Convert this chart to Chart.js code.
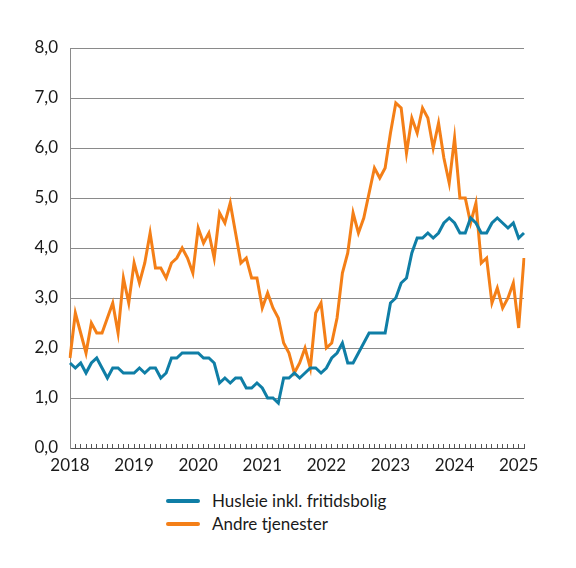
<!DOCTYPE html>
<html>
<head>
<meta charset="utf-8">
<script src="https://cdn.jsdelivr.net/npm/chart.js@4.4.1/dist/chart.umd.min.js"></script>
<style>
  body { margin: 0; background: #fff; }
  #wrap { width: 576px; height: 568px; position: relative; }
  #legend { position: absolute; left: 166px; top: 489px; font-family: Lato, sans-serif; font-size: 17px; color: #1a1a1a; }
  .item { display: flex; align-items: center; height: 23px; }
  .swatch { width: 34px; height: 4px; border-radius: 2px; margin-right: 12px; }
</style>
</head>
<body>
<div id="wrap">
  <canvas id="myChart" width="576" height="480"></canvas>
  <div id="legend"></div>
</div>
<script>
// years shown on the x axis, one point per month from Jan 2018 to Feb 2025
var years = ['2018', '2019', '2020', '2021', '2022', '2023', '2024', '2025'];
var monthsInLast = 2;

var seriesNames = ['Husleie inkl. fritidsbolig', 'Andre tjenester'];
var seriesColors = ['#0f7ea6', '#f47f17'];

var husleie = [
	1.7, 1.6, 1.7, 1.5, 1.7, 1.8, 1.6, 1.4, 1.6, 1.6, 1.5, 1.5,
	1.5, 1.6, 1.5, 1.6, 1.6, 1.4, 1.5, 1.8, 1.8, 1.9, 1.9, 1.9,
	1.9, 1.8, 1.8, 1.7, 1.3, 1.4, 1.3, 1.4, 1.4, 1.2, 1.2, 1.3,
	1.2, 1.0, 1.0, 0.9, 1.4, 1.4, 1.5, 1.4, 1.5, 1.6, 1.6, 1.5,
	1.6, 1.8, 1.9, 2.1, 1.7, 1.7, 1.9, 2.1, 2.3, 2.3, 2.3, 2.3,
	2.9, 3.0, 3.3, 3.4, 3.9, 4.2, 4.2, 4.3, 4.2, 4.3, 4.5, 4.6,
	4.5, 4.3, 4.3, 4.6, 4.5, 4.3, 4.3, 4.5, 4.6, 4.5, 4.4, 4.5,
	4.2, 4.3
];

var andre = [
	1.8, 2.7, 2.3, 1.9, 2.5, 2.3, 2.3, 2.6, 2.9, 2.3, 3.4, 2.9,
	3.7, 3.3, 3.7, 4.3, 3.6, 3.6, 3.4, 3.7, 3.8, 4.0, 3.8, 3.5,
	4.4, 4.1, 4.3, 3.8, 4.7, 4.5, 4.9, 4.3, 3.7, 3.8, 3.4, 3.4,
	2.8, 3.1, 2.8, 2.6, 2.1, 1.9, 1.5, 1.7, 2.0, 1.6, 2.7, 2.9,
	2.0, 2.1, 2.6, 3.5, 3.9, 4.7, 4.3, 4.6, 5.1, 5.6, 5.4, 5.6,
	6.3, 6.9, 6.8, 5.9, 6.6, 6.3, 6.8, 6.6, 6.0, 6.5, 5.8, 5.3,
	6.2, 5.0, 5.0, 4.5, 4.9, 3.7, 3.8, 2.9, 3.2, 2.8, 3.0, 3.3,
	2.4, 3.8
];

var labels = [];
for (var y = 0; y < years.length; y++) {
	var n = (y === years.length - 1) ? monthsInLast : 12;
	for (var m = 1; m <= n; m++) {
		labels.push(years[y] + '-' + (m < 10 ? '0' + m : m));
	}
}

var font = { family: 'Lato, sans-serif', size: 17 };

var ds = [husleie, andre].map(function (d, i) {
	return {
		label: seriesNames[i],
		data: d,
		borderColor: seriesColors[i],
		backgroundColor: seriesColors[i],
		borderWidth: 3,
		pointRadius: 0,
		tension: 0,
		fill: false
	};
});

var ctx = document.getElementById('myChart').getContext('2d');
var chart = new Chart(ctx, {
	type: 'line',
	data: { labels: labels, datasets: ds },
	options: {
		responsive: false,
		animation: false,
		layout: { padding: { left: 0, right: 52, top: 48, bottom: 0 } },
		plugins: { legend: { display: false }, tooltip: { enabled: false } },
		scales: {
			x: {
				offset: false,
				grid: { drawOnChartArea: false, tickLength: -4, color: '#555' },
				border: { color: '#555', width: 1 },
				ticks: {
					autoSkip: false, maxRotation: 0, minRotation: 0,
					color: '#1a1a1a', font: font, padding: 11,
					callback: function (v, i) { return i % 12 === 0 ? labels[i].slice(0, 4) : ''; }
				},
				afterFit: function (s) { s.height = 32; }
			},
			y: {
				min: 0, max: 8,
				grid: { color: '#8a8a8a', drawTicks: false },
				border: { color: '#8a8a8a' },
				ticks: {
					stepSize: 1, color: '#1a1a1a', font: font, padding: 12,
					callback: function (v) { return v.toFixed(1).replace('.', ','); }
				},
				afterFit: function (s) { s.width = 70; }
			}
		}
	}
});

// legend as real text under the chart
var lg = document.getElementById('legend');
chart.data.datasets.forEach(function (d) {
	var row = document.createElement('div');
	row.className = 'item';
	row.innerHTML = '<span class="swatch" style="background:' + d.borderColor + '"></span><span>' + d.label + '</span>';
	lg.appendChild(row);
});
</script>
</body>
</html>
